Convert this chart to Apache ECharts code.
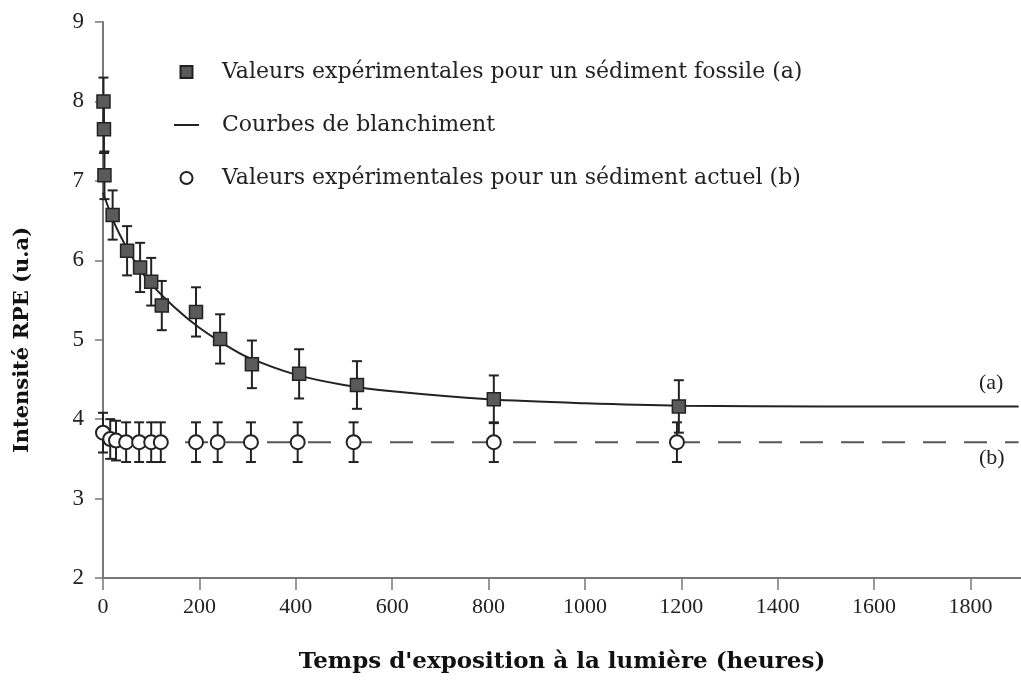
<!DOCTYPE html>
<html>
<head>
<meta charset="utf-8">
<script src="https://cdn.jsdelivr.net/npm/echarts@6/dist/echarts.min.js"></script>
<style>
  html, body { margin: 0; padding: 0; background: #fff; }
  #chart { width: 1021px; height: 684px; }
</style>
</head>
<body>
<div id="chart"></div>
<script>
// sédiment fossile (a): temps (h), intensité, demi-barre d'erreur
const fossilT = [1, 2, 3, 20, 50, 77, 100, 122, 193, 243, 309, 407, 527, 811, 1195]
const fossilY = [8.0, 7.65, 7.07, 6.57, 6.12, 5.91, 5.73, 5.43, 5.35, 5.01, 4.69, 4.57, 4.43, 4.25, 4.16]
const fossilErr = [0.3, 0.3, 0.3, 0.31, 0.31, 0.31, 0.3, 0.31, 0.31, 0.31, 0.3, 0.31, 0.3, 0.3, 0.33]

// sédiment actuel (b)
const actualT = [0, 15, 27, 48, 75, 100, 120, 193, 238, 307, 404, 520, 811, 1191]
const actualY = [3.83, 3.75, 3.73, 3.71, 3.71, 3.71, 3.71, 3.71, 3.71, 3.71, 3.71, 3.71, 3.71, 3.71]
const actualErr = [0.25, 0.25, 0.25, 0.25, 0.25, 0.25, 0.25, 0.25, 0.25, 0.25, 0.25, 0.25, 0.25, 0.25]

// courbe de blanchiment (a)
const curveT = [0, 25, 50, 75, 100, 150, 200, 250, 300, 400, 500, 600, 800, 1000, 1200, 1500, 1900]
const curveY = [6.85, 6.45, 6.15, 5.9, 5.7, 5.4, 5.15, 4.95, 4.78, 4.56, 4.43, 4.35, 4.25, 4.2, 4.17, 4.16, 4.16]

// courbe (b) : palier
const flatT = [0, 1900]
const flatY = [3.71, 3.71]

const xTicks = [0, 200, 400, 600, 800, 1000, 1200, 1400, 1600, 1800]

const SERIF = '"Liberation Serif", "DejaVu Serif", serif'
const WIDE = '"DejaVu Serif", serif'

function pairs(xs, ys) {
  return xs.map((x, i) => [x, ys[i]])
}

function errData(xs, ys, es) {
  return xs.map((x, i) => [x, ys[i] - es[i], ys[i] + es[i]])
}

function renderErr(params, api) {
  const lo = api.coord([api.value(0), api.value(1)])
  const hi = api.coord([api.value(0), api.value(2)])
  const w = 5
  const style = { stroke: '#222', lineWidth: 2 }
  return {
    type: 'group',
    children: [
      { type: 'line', shape: { x1: lo[0], y1: lo[1], x2: hi[0], y2: hi[1] }, style },
      { type: 'line', shape: { x1: lo[0] - w, y1: lo[1], x2: lo[0] + w, y2: lo[1] }, style },
      { type: 'line', shape: { x1: hi[0] - w, y1: hi[1], x2: hi[0] + w, y2: hi[1] }, style }
    ]
  }
}

const chart = echarts.init(document.getElementById('chart'))

chart.setOption({
  backgroundColor: '#fff',
  animation: false,
  textStyle: { fontFamily: SERIF },
  grid: { left: 103, right: 0, top: 22, bottom: 106 },
  legend: {
    orient: 'vertical',
    left: 169,
    top: 56,
    itemGap: 31,
    itemWidth: 25,
    itemHeight: 12,
    textStyle: { fontFamily: WIDE, fontSize: 22, color: '#222', padding: [0, 0, 0, 18] },
    data: [
      { name: 'Valeurs expérimentales pour un sédiment fossile (a)', icon: 'path://M0,0L10,0L10,10L0,10Z' },
      { name: 'Courbes de blanchiment', icon: 'path://M0,0L25,0L25,2L0,2Z' },
      { name: 'Valeurs expérimentales pour un sédiment actuel (b)', icon: 'circle' }
    ]
  },
  xAxis: {
    type: 'value',
    min: 0,
    max: 1905,
    interval: 200,
    name: "Temps d'exposition à la lumière (heures)",
    nameLocation: 'middle',
    nameGap: 73,
    nameTextStyle: { fontFamily: WIDE, fontSize: 23, fontWeight: 'bold', color: '#111' },
    axisLine: { lineStyle: { color: '#777', width: 2 } },
    axisTick: { length: 12, customValues: xTicks, lineStyle: { color: '#777', width: 1.5 } },
    axisLabel: {
      margin: 18,
      customValues: xTicks,
      formatter: (v) => String(v),
      fontFamily: SERIF,
      fontSize: 22,
      color: '#222'
    },
    splitLine: { show: false }
  },
  yAxis: {
    type: 'value',
    min: 2,
    max: 9,
    interval: 1,
    name: 'Intensité RPE (u.a)',
    nameLocation: 'middle',
    nameGap: 70,
    nameTextStyle: {
      fontFamily: WIDE,
      fontSize: 21,
      fontWeight: 'bold',
      color: '#111',
      padding: [0, 80, 0, 0]
    },
    axisLine: { show: true, lineStyle: { color: '#777', width: 2 } },
    axisTick: { show: true, length: 8, lineStyle: { color: '#777', width: 1.5 } },
    axisLabel: { margin: 19, formatter: (v) => String(v), fontFamily: SERIF, fontSize: 23, color: '#222' },
    splitLine: { show: false }
  },
  graphic: [
    { type: 'text', left: 979, top: 372, style: { text: '(a)', font: '22px ' + SERIF, fill: '#222' } },
    { type: 'text', left: 979, top: 447, style: { text: '(b)', font: '22px ' + SERIF, fill: '#222' } }
  ],
  series: [
    {
      name: 'Courbes de blanchiment',
      type: 'line',
      data: pairs(curveT, curveY),
      smooth: 0.3,
      symbol: 'none',
      lineStyle: { color: '#222', width: 2 },
      itemStyle: { color: '#222' },
      z: 2
    },
    {
      name: 'courbe b',
      type: 'line',
      data: pairs(flatT, flatY),
      symbol: 'none',
      lineStyle: { color: '#555', width: 2, type: [23, 18] },
      z: 2
    },
    {
      name: 'err a',
      type: 'custom',
      renderItem: renderErr,
      data: errData(fossilT, fossilY, fossilErr),
      z: 3
    },
    {
      name: 'err b',
      type: 'custom',
      renderItem: renderErr,
      data: errData(actualT, actualY, actualErr),
      z: 3
    },
    {
      name: 'Valeurs expérimentales pour un sédiment fossile (a)',
      type: 'scatter',
      symbol: 'rect',
      symbolSize: 13,
      data: pairs(fossilT, fossilY),
      itemStyle: { color: '#5a5a5a', borderColor: '#222', borderWidth: 1.5, opacity: 1 },
      z: 4
    },
    {
      name: 'Valeurs expérimentales pour un sédiment actuel (b)',
      type: 'scatter',
      symbol: 'circle',
      symbolSize: 14,
      data: pairs(actualT, actualY),
      itemStyle: { color: '#fff', borderColor: '#222', borderWidth: 2, opacity: 1 },
      z: 4
    }
  ]
})
</script>
</body>
</html>
